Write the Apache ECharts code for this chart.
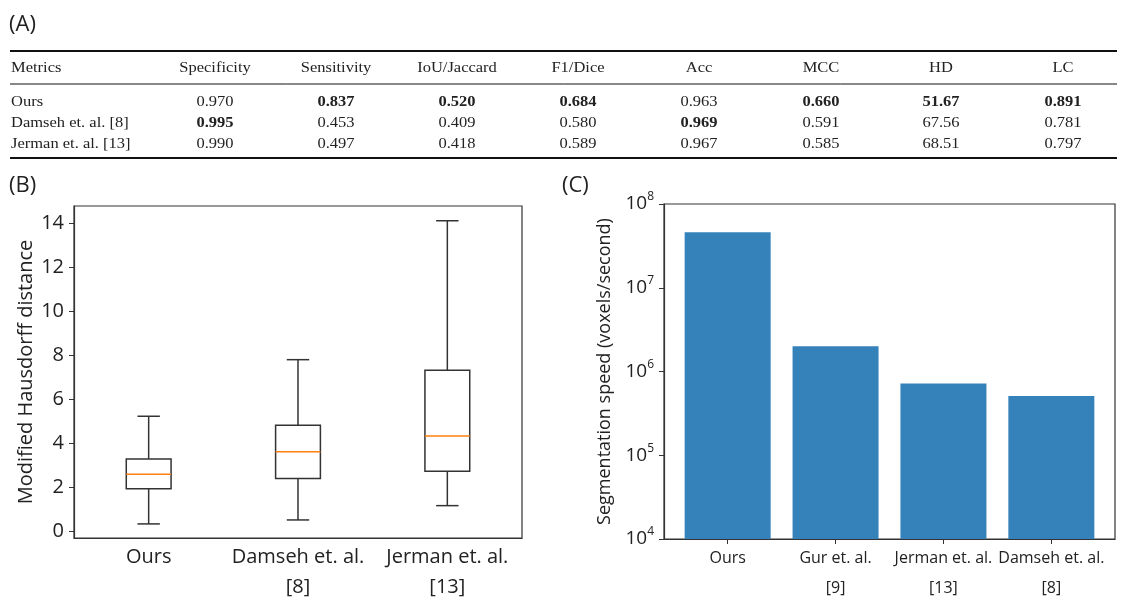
<!DOCTYPE html>
<html>
<head>
<meta charset="utf-8">
<script src="https://cdn.jsdelivr.net/npm/echarts@6/dist/echarts.min.js"></script>
<style>
  html, body { margin: 0; padding: 0; background: #fff; }
  #chart { width: 1124px; height: 599px; }
</style>
</head>
<body>
<div id="chart"></div>
<script>
// (A) metrics table
const metricNames = ['Specificity', 'Sensitivity', 'IoU/Jaccard', 'F1/Dice', 'Acc', 'MCC', 'HD', 'LC']
const methodNames = ['Ours', 'Damseh et. al. [8]', 'Jerman et. al. [13]']
const oursScores = ['0.970', '0.837', '0.520', '0.684', '0.963', '0.660', '51.67', '0.891']
const damsehScores = ['0.995', '0.453', '0.409', '0.580', '0.969', '0.591', '67.56', '0.781']
const jermanScores = ['0.990', '0.497', '0.418', '0.589', '0.967', '0.585', '68.51', '0.797']
const lowerIsBetter = ['HD']

// (B) modified Hausdorff distance boxplot
const boxCategories = ['Ours', 'Damseh et. al.\n[8]', 'Jerman et. al.\n[13]']
const boxLow = [0.35, 0.53, 1.18]
const boxQ1 = [1.95, 2.41, 2.74]
const boxMedian = [2.60, 3.63, 4.34]
const boxQ3 = [3.30, 4.83, 7.33]
const boxHigh = [5.24, 7.81, 14.12]
const boxTicks = [0, 2, 4, 6, 8, 10, 12, 14]

// (C) segmentation speed
const speedCategories = ['Ours', 'Gur et. al.\n[9]', 'Jerman et. al.\n[13]', 'Damseh et. al.\n[8]']
const speedValues = [4.6e7, 2.0e6, 7.2e5, 5.1e5]
const speedTicks = [0, 1, 2, 3]

const SANS = '"Open Sans", sans-serif'
const SERIF = '"Liberation Serif", "Times New Roman", serif'
const INK = '#222'
const FRAME = '#333'

const chart = echarts.init(document.getElementById('chart'))

// ---- table drawn with graphic elements ----
const colX = [215, 336, 457, 578, 699, 821, 941, 1063]
const headerY = 68
const rowY = [102, 123, 144]
const allScores = [oursScores, damsehScores, jermanScores]

const isBest = (row, col) => {
  const nums = allScores.map(r => parseFloat(r[col]))
  const target = lowerIsBetter.includes(metricNames[col]) ? Math.min(...nums) : Math.max(...nums)
  return parseFloat(allScores[row][col]) === target
}

const cell = (text, x, y, align, bold) => ({
  type: 'text',
  x: x,
  y: y,
  scaleX: 1.1,
  style: {
    text: text,
    fontFamily: SERIF,
    fontSize: 15,
    fontWeight: bold ? 'bold' : 'normal',
    fill: INK,
    align: align,
    verticalAlign: 'middle'
  }
})

const rule = (y, w) => ({
  type: 'line',
  shape: { x1: 10, y1: y, x2: 1117, y2: y },
  style: { stroke: '#111', lineWidth: w }
})

const tableGraphics = [
  rule(51, 2.2), rule(84, 1), rule(158, 2.2),
  cell('Metrics', 11, headerY, 'left', false)
]
metricNames.forEach((m, c) => tableGraphics.push(cell(m, colX[c], headerY, 'center', false)))
methodNames.forEach((name, r) => {
  tableGraphics.push(cell(name, 11, rowY[r], 'left', false))
  allScores[r].forEach((v, c) => tableGraphics.push(cell(v, colX[c], rowY[r], 'center', isBest(r, c))))
})

const panelLabel = (text, x, y) => ({
  type: 'text', x: x, y: y,
  style: { text: text, fontFamily: SANS, fontSize: 22, fill: INK, verticalAlign: 'middle' }
})

// speed labels are split over two overlapping x axes so none get hidden
const speedAxis = (ticks, showLine) => ({
  gridIndex: 1,
  type: 'value',
  position: 'bottom',
  min: -0.59,
  max: 3.59,
  axisLine: { show: showLine, onZero: false, lineStyle: { color: FRAME, width: 1.2 } },
  axisTick: { show: showLine, customValues: speedTicks, length: 5, lineStyle: { color: FRAME } },
  axisLabel: {
    customValues: ticks,
    showMinLabel: true,
    showMaxLabel: true,
    formatter: v => speedCategories[Math.round(v)],
    color: INK, fontFamily: SANS, fontSize: 16, lineHeight: 30, margin: 4
  },
  splitLine: { show: false }
})

const option = {
  backgroundColor: '#fff',
  animation: false,
  graphic: [
    ...tableGraphics,
    panelLabel('(A)', 9, 25),
    panelLabel('(B)', 9, 186),
    panelLabel('(C)', 562, 186)
  ],
  grid: [
    { left: 74, top: 206, width: 448, height: 332, outerBoundsMode: 'none', containLabel: false,
      show: true, borderColor: FRAME, borderWidth: 1.2 },
    { left: 664, top: 204, width: 451, height: 335, outerBoundsMode: 'none', containLabel: false,
      show: true, borderColor: FRAME, borderWidth: 1.2 }
  ],
  xAxis: [
    {
      gridIndex: 0,
      type: 'category',
      data: boxCategories,
      axisLine: { onZero: false, lineStyle: { color: FRAME, width: 1.2 } },
      axisTick: { alignWithLabel: true, length: 5, lineStyle: { color: FRAME } },
      axisLabel: { interval: 0, hideOverlap: false, color: INK, fontFamily: SANS, fontSize: 20, lineHeight: 30, margin: 4 },
      splitLine: { show: false }
    },
    speedAxis(speedTicks.filter(t => t % 2 === 0), true),
    speedAxis(speedTicks.filter(t => t % 2 === 1), false)
  ],
  yAxis: [
    {
      gridIndex: 0,
      type: 'value',
      min: -0.29,
      max: 14.79,
      name: 'Modified Hausdorff distance',
      nameLocation: 'middle',
      nameRotate: 90,
      nameGap: 38,
      nameTextStyle: { color: INK, fontFamily: SANS, fontSize: 20 },
      axisLine: { show: true, onZero: false, lineStyle: { color: FRAME, width: 1.2 } },
      axisTick: { show: true, customValues: boxTicks, length: 5, lineStyle: { color: FRAME } },
      axisLabel: { customValues: boxTicks, color: INK, fontFamily: SANS, fontSize: 20, margin: 10 },
      splitLine: { show: false }
    },
    {
      gridIndex: 1,
      type: 'log',
      logBase: 10,
      min: 1e4,
      max: 1e8,
      name: 'Segmentation speed (voxels/second)',
      nameLocation: 'middle',
      nameRotate: 90,
      nameGap: 50,
      nameTextStyle: { color: INK, fontFamily: SANS, fontSize: 18 },
      axisLine: { show: true, onZero: false, lineStyle: { color: FRAME, width: 1.2 } },
      axisTick: { show: true, length: 5, lineStyle: { color: FRAME } },
      axisLabel: {
        margin: 10,
        formatter: v => '{b|10}{s|' + Math.round(Math.log10(v)) + '}',
        rich: {
          b: { color: INK, fontFamily: SANS, fontSize: 19, lineHeight: 26 },
          s: { color: INK, fontFamily: SANS, fontSize: 12, verticalAlign: 'top' }
        }
      },
      splitLine: { show: false }
    }
  ],
  series: [
    {
      type: 'custom',
      xAxisIndex: 0,
      yAxisIndex: 0,
      data: boxCategories.map((c, i) => [i, boxLow[i], boxQ1[i], boxMedian[i], boxQ3[i], boxHigh[i]]),
      encode: { x: 0, y: [1, 2, 3, 4, 5] },
      renderItem: (params, api) => {
        const i = api.value(0)
        const xc = api.coord([i, api.value(3)])[0]
        const bw = api.size([1, 0])[0] * 0.3
        const y = k => api.coord([i, api.value(k)])[1]
        const dark = { stroke: FRAME, lineWidth: 1.5 }
        const seg = (x1, y1, x2, y2, style) => ({ type: 'line', shape: { x1, y1, x2, y2 }, style })
        return {
          type: 'group',
          children: [
            seg(xc, y(1), xc, y(2), dark),
            seg(xc, y(4), xc, y(5), dark),
            seg(xc - bw / 4, y(1), xc + bw / 4, y(1), dark),
            seg(xc - bw / 4, y(5), xc + bw / 4, y(5), dark),
            { type: 'rect', shape: { x: xc - bw / 2, y: y(4), width: bw, height: y(2) - y(4) },
              style: { fill: 'none', stroke: FRAME, lineWidth: 1.5 } },
            seg(xc - bw / 2, y(3), xc + bw / 2, y(3), { stroke: '#ff7f0e', lineWidth: 1.5 })
          ]
        }
      }
    },
    {
      type: 'bar',
      xAxisIndex: 1,
      yAxisIndex: 1,
      data: speedValues.map((v, i) => [i, v]),
      barWidth: 86,
      clip: true,
      itemStyle: { color: '#3582bb' }
    }
  ]
}

chart.setOption(option)
window.addEventListener('resize', () => chart.resize())
</script>
</body>
</html>
